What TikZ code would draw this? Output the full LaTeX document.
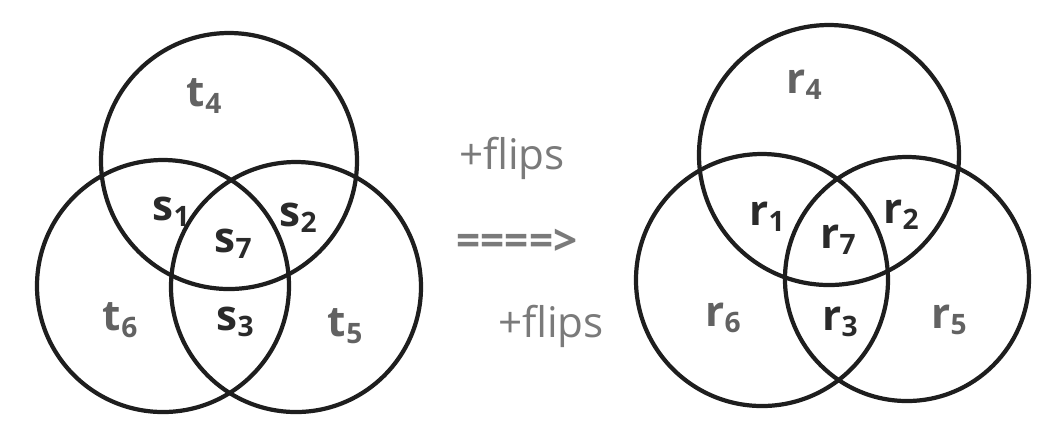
\documentclass[tikz,border=0pt]{standalone}
\usepackage{fontspec}
\setmainfont{Open Sans}
\usepackage{xcolor}
\usetikzlibrary{positioning}
\definecolor{ringcol}{HTML}{1E1E1E}
\definecolor{labcol}{HTML}{2A2A2A}
\definecolor{notecol}{HTML}{7A7A7A}
\tikzset{
  ring/.style    = {draw=ringcol, line width=1.2pt},
  reglab/.style  = {font=\large\bfseries, color=labcol, inner sep=1pt},
  outlab/.style  = {font=\large\bfseries, color=notecol!80!black, inner sep=1pt},
  note/.style    = {font=\large, color=notecol, inner sep=1pt},
}

\begin{document}
\begin{tikzpicture}[x=0.01cm, y=-0.01cm]
    \useasboundingbox (0,0) rectangle (1059,447);

    % ---------------- left diagram
    \draw[ring] (229,161) circle (128);
    \draw[ring] (163,286) circle (126);
    \draw[ring] (296,287) circle (125);

    \node[outlab] (t4) at (205,96)  {t\textsubscript{4}};
    \node[outlab] (t6) at (121,320) {t\textsubscript{6}};
    \node[outlab] (t5) at (346,326) {t\textsubscript{5}};
    \node[reglab] (s1) at (172,212) {s\textsubscript{1}};
    \node[reglab] (s2) at (299,218) {s\textsubscript{2}};
    \node[reglab] (s7) at (234,244) {s\textsubscript{7}};
    \node[reglab] (s3) at (236,322) {s\textsubscript{3}};

    % ---------------- middle
    \node[note] (fl1) at (512,158) {+flips};
    \node[note, font=\large\bfseries] (arr) at (517,242) {====>};
    \node[note] (fl2) at (551,326) {+flips};

    % ---------------- right diagram
    \draw[ring] (829,155) circle (130);
    \draw[ring] (762,280) circle (126);
    \draw[ring] (907,279) circle (122);

    \node[outlab] (r4) at (805,85)  {r\textsubscript{4}};
    \node[outlab] (r6) at (724,318) {r\textsubscript{6}};
    \node[outlab] (r5) at (950,320) {r\textsubscript{5}};
    \node[reglab] (r1) at (768,217) {r\textsubscript{1}};
    \node[reglab] (r2) at (902,215) {r\textsubscript{2}};
    \node[reglab] (r7) at (839,240) {r\textsubscript{7}};
    \node[reglab] (r3) at (841,322) {r\textsubscript{3}};
\end{tikzpicture}
\end{document}
